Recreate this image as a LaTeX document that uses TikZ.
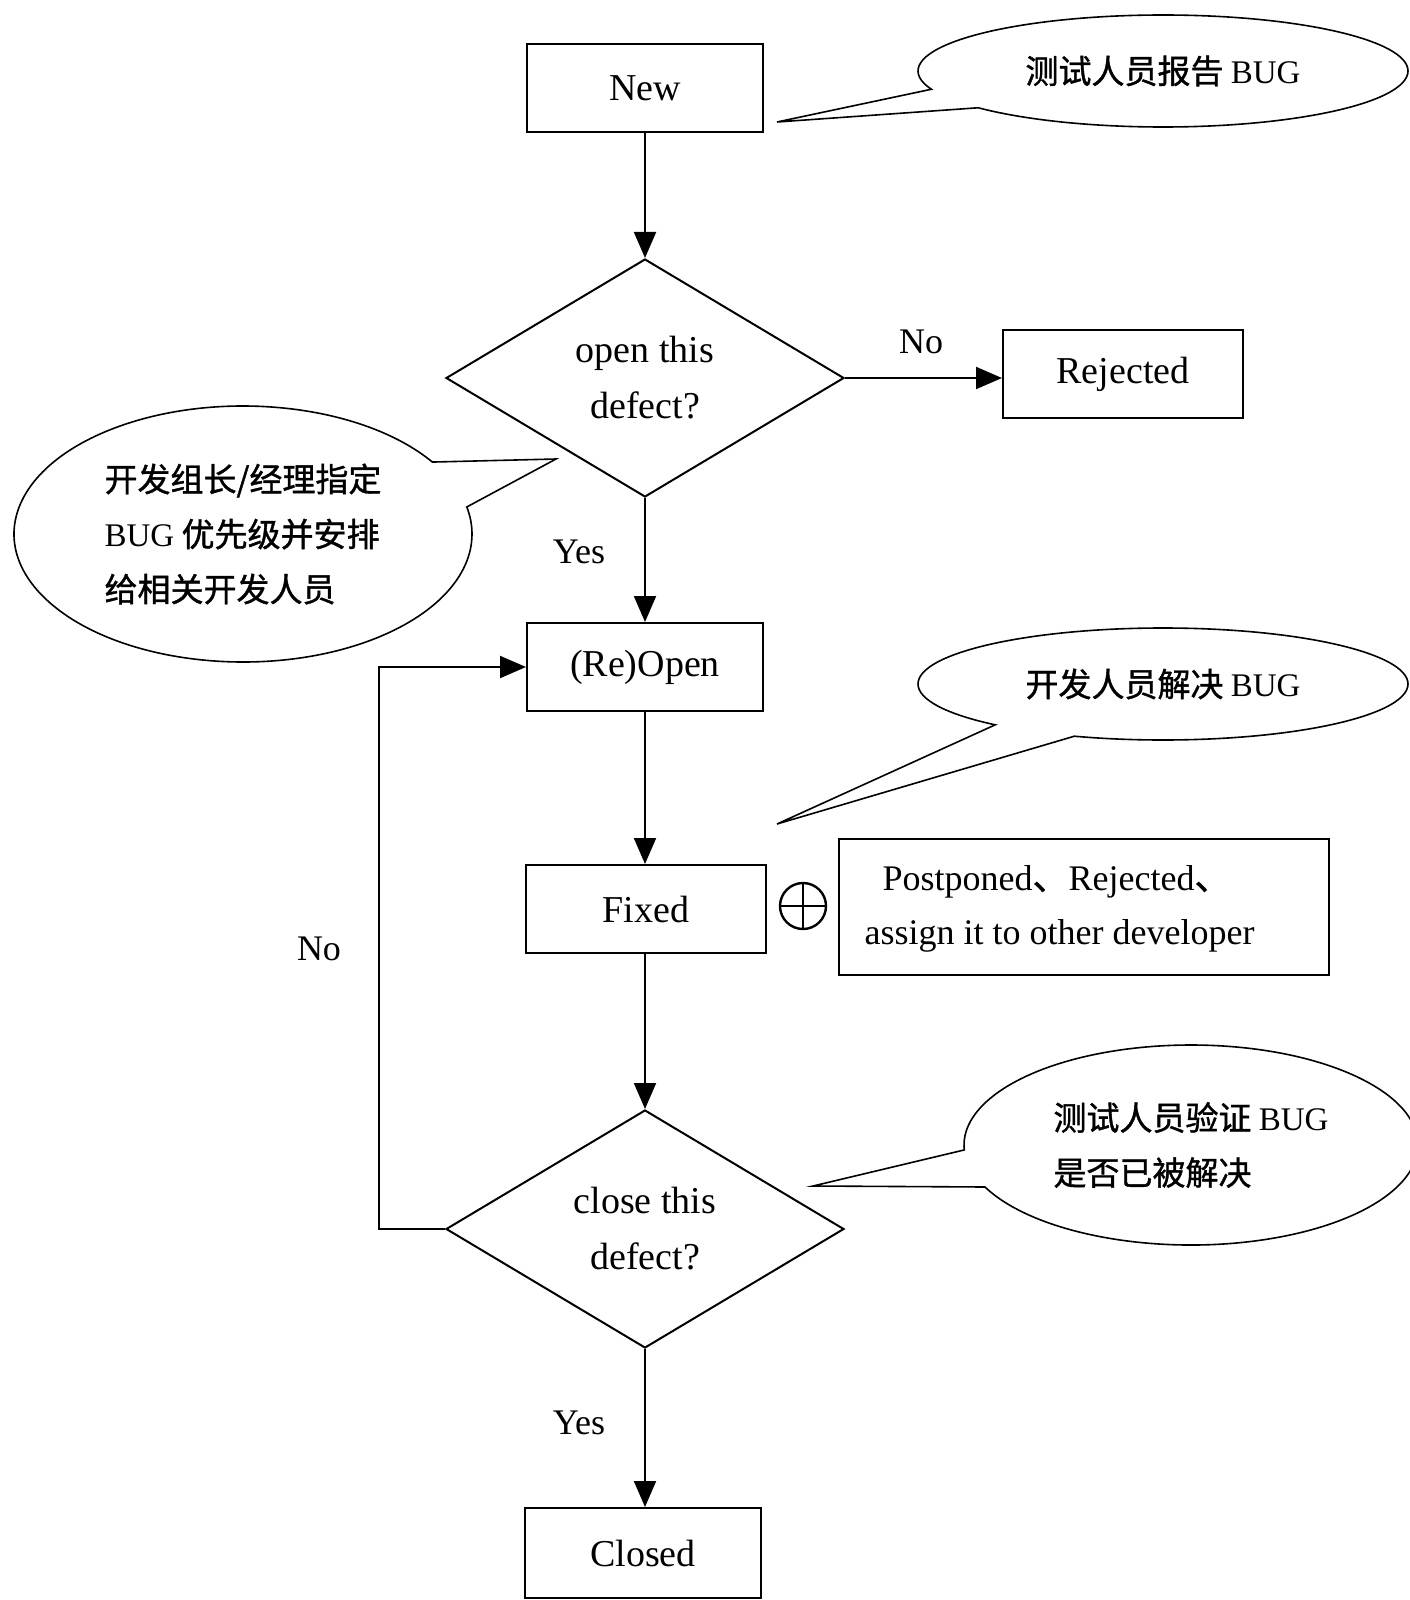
\documentclass[tikz,border=0pt]{standalone}
\usepackage{fontspec}
\setmainfont{Liberation Serif}
\newfontfamily\cjk[FakeBold=1.2]{Noto Sans CJK SC}
\usepackage{tikz}
\usetikzlibrary{arrows.meta,shapes.geometric,shapes.callouts}

\begin{document}
\begin{tikzpicture}
[x=1pt,y=-1pt,
boxstyle/.style={rectangle, draw, line width=2pt, minimum width=236pt, minimum height=88pt, inner sep=0pt, text centered, font=\fontsize{38}{44}\selectfont},
diamondstyle/.style={diamond, draw, line width=2pt, minimum width=398pt, minimum height=238pt, aspect=1.67, inner sep=0pt, align=center, font=\fontsize{38}{56}\selectfont},
calloutstyle/.style={ellipse callout, draw, line width=1.6pt, inner sep=0pt, align=left, callout pointer arc=22, font=\cjk\fontsize{33}{55}\selectfont},
labelstyle/.style={draw=none, text centered, font=\fontsize{36}{40}\selectfont},
flow/.style={line width=2pt, -{Triangle[length=26pt,width=22pt]}}
]
\useasboundingbox (0,0) rectangle (1409,1600);

\node (new) [boxstyle] at (645,88) {New};
\node (open) [diamondstyle] at (645,378) {open this\\defect?};
\node (rejected) [boxstyle, minimum width=240pt] at (1123,374) {Rejected};
\node (reopen) [boxstyle] at (645,667) {(Re)Open};
\node (fixed) [boxstyle, minimum width=240pt] at (646,909) {Fixed};
\node (plus) [circle, draw, line width=2.4pt, minimum size=46pt, inner sep=0pt] at (803,906) {};
\node (other) [boxstyle, minimum width=490pt, minimum height=136pt, font=\fontsize{36}{50}\selectfont] at (1084,907)
  {\begin{tabular}{@{}l@{\hspace{49pt}}}
   \hspace{18pt}Postponed{\cjk 、}Rejected{\cjk 、}\\[4pt]
   assign it to other developer
   \end{tabular}};
\node (close) [diamondstyle] at (645,1229) {close this\\defect?};
\node (closed) [boxstyle, minimum height=90pt] at (643,1553) {Closed};

\draw [line width=2.4pt] (plus.north) -- (plus.south) (plus.west) -- (plus.east);

\coordinate (bend) at (379,0);
\draw [flow] (new) -- (open);
\draw [flow] (open.east) -- (open.east -| rejected.west);
\draw [flow] (open) -- (reopen);
\draw [flow] (reopen) -- (reopen |- fixed.north);
\draw [flow] (fixed.south -| reopen) -- (close);
\draw [flow] (close) -- (close |- closed.north);
\draw [flow] (close.west) -- (close.west -| bend) -- (reopen.west -| bend) -- (reopen.west);

\node (no1) [labelstyle] at (921,342) {No};
\node (yes1) [labelstyle] at (579,552) {Yes};
\node (no2) [labelstyle] at (319,949) {No};
\node (yes2) [labelstyle] at (579,1423) {Yes};

\coordinate (tip1) at (777,122);
\coordinate (tip2) at (556,459);
\coordinate (tip3) at (777,824);
\coordinate (tip4) at (813,1186);
\node (report) [calloutstyle, minimum width=490pt, minimum height=112pt, callout absolute pointer={(tip1)}] at (1163,71)
  {测试人员报告 {\rmfamily BUG}};
\node (assign) [calloutstyle, minimum width=458pt, minimum height=256pt, callout absolute pointer={(tip2)}] at (243,534)
  {开发组长/经理指定\\{\rmfamily BUG} 优先级并安排\\给相关开发人员};
\node (solve) [calloutstyle, minimum width=490pt, minimum height=112pt, callout absolute pointer={(tip3)}] at (1163,684)
  {开发人员解决 {\rmfamily BUG}};
\node (verify) [calloutstyle, minimum width=454pt, minimum height=200pt, callout absolute pointer={(tip4)}] at (1191,1145)
  {测试人员验证 {\rmfamily BUG}\\是否已被解决};
\end{tikzpicture}
\end{document}
